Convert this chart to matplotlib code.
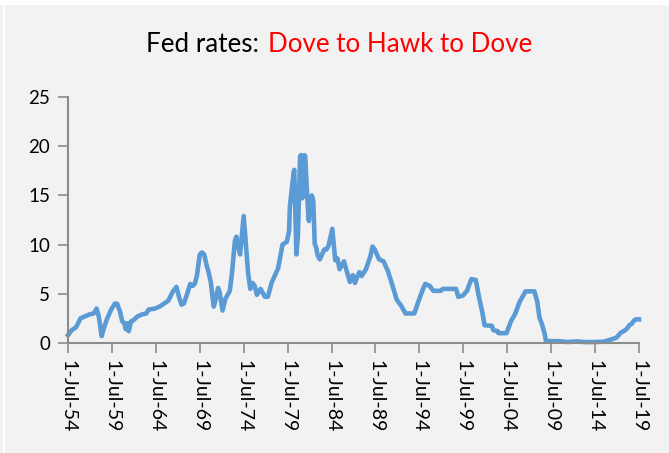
import matplotlib
matplotlib.use('Agg')
import matplotlib.pyplot as plt
import pandas as pd

# monthly fed funds rate breakpoints
dates = ['1954-07', '1954-12', '1955-06', '1955-12', '1956-06', '1956-12', '1957-06', '1957-10',
         '1958-01', '1958-05', '1958-08', '1958-12', '1959-06', '1959-11', '1960-02', '1960-06',
         '1960-09', '1960-12', '1961-02', '1961-04', '1961-06', '1961-09', '1961-12', '1962-06',
         '1962-12', '1963-06', '1963-09', '1964-06', '1964-12', '1965-06', '1965-12', '1966-06',
         '1966-11', '1967-03', '1967-06', '1967-09', '1967-12', '1968-06', '1968-09', '1968-12',
         '1969-03', '1969-07', '1969-10', '1970-01', '1970-04', '1970-07', '1970-10', '1971-02',
         '1971-04', '1971-08', '1971-10', '1972-02', '1972-06', '1972-12', '1973-03', '1973-07',
         '1973-09', '1973-11', '1974-02', '1974-07', '1974-10', '1975-01', '1975-04', '1975-07',
         '1975-10', '1976-01', '1976-06', '1976-12', '1977-04', '1977-09', '1977-12', '1978-06',
         '1978-12', '1979-06', '1979-09', '1979-10', '1980-03', '1980-04', '1980-07', '1980-09',
         '1980-12', '1981-01', '1981-03', '1981-06', '1981-07', '1981-09', '1981-11', '1981-12',
         '1982-02', '1982-04', '1982-06', '1982-08', '1982-10', '1982-12', '1983-03', '1983-06',
         '1983-09', '1983-12', '1984-03', '1984-08', '1984-10', '1984-12', '1985-03', '1985-06',
         '1985-09', '1985-12', '1986-03', '1986-08', '1986-12', '1987-03', '1987-06', '1987-09',
         '1987-12', '1988-06', '1988-12', '1989-03', '1989-06', '1989-09', '1989-12', '1990-06',
         '1990-12', '1991-06', '1991-12', '1992-06', '1992-12', '1993-06', '1993-12', '1994-06',
         '1994-12', '1995-03', '1995-09', '1996-02', '1996-12', '1997-03', '1998-09', '1998-12',
         '1999-06', '1999-12', '2000-06', '2000-12', '2001-04', '2001-09', '2001-12', '2002-10',
         '2002-12', '2003-06', '2003-07', '2004-06', '2004-12', '2005-06', '2005-12', '2006-06',
         '2006-08', '2007-08', '2007-12', '2008-03', '2008-06', '2008-10', '2008-12', '2009-06',
         '2010-06', '2011-06', '2012-06', '2013-06', '2014-06', '2015-06', '2015-12', '2016-06',
         '2016-12', '2017-03', '2017-06', '2017-12', '2018-03', '2018-06', '2018-09', '2018-12',
         '2019-03', '2019-07']
rates = [0.8, 1.3, 1.6, 2.5, 2.7, 2.9, 3.0, 3.5,
         2.7, 0.7, 1.5, 2.4, 3.4, 4.0, 4.0, 3.2,
         2.2, 2.0, 1.4, 2.0, 1.2, 2.2, 2.3, 2.7,
         2.9, 3.0, 3.4, 3.5, 3.7, 4.0, 4.3, 5.2,
         5.7, 4.6, 3.9, 4.0, 4.6, 6.0, 5.8, 6.0,
         6.8, 9.0, 9.2, 9.0, 8.0, 7.2, 6.2, 3.7,
         4.2, 5.6, 5.2, 3.3, 4.5, 5.3, 7.1, 10.4,
         10.8, 10.0, 9.0, 12.9, 10.0, 7.1, 5.5, 6.1,
         5.8, 4.9, 5.5, 4.7, 4.7, 6.1, 6.6, 7.6,
         10.0, 10.3, 11.4, 13.8, 17.2, 17.6, 9.0, 10.9,
         18.9, 19.1, 14.7, 19.1, 19.0, 15.9, 13.3, 12.4,
         14.8, 15.0, 14.5, 10.1, 9.7, 8.9, 8.5, 9.0,
         9.5, 9.5, 9.9, 11.6, 10.0, 8.4, 8.6, 7.5,
         7.9, 8.3, 7.5, 6.2, 6.9, 6.1, 6.7, 7.2,
         6.8, 7.5, 8.8, 9.8, 9.5, 9.0, 8.5, 8.3,
         7.3, 5.9, 4.4, 3.8, 3.0, 3.0, 3.0, 4.3,
         5.5, 6.0, 5.8, 5.3, 5.3, 5.5, 5.5, 4.7,
         4.8, 5.3, 6.5, 6.4, 4.8, 3.1, 1.8, 1.75,
         1.3, 1.2, 1.0, 1.0, 2.2, 3.0, 4.2, 5.0,
         5.25, 5.25, 4.2, 2.6, 2.0, 0.97, 0.16, 0.2,
         0.18, 0.1, 0.16, 0.09, 0.1, 0.13, 0.24, 0.38,
         0.54, 0.79, 1.04, 1.3, 1.51, 1.82, 1.95, 2.27,
         2.41, 2.4]

tick_years = list(range(1954, 2020, 5))
tick_labels = ['1-Jul-%02d' % (y % 100) for y in tick_years]

plt.rcParams['font.family'] = ['Lato', 'DejaVu Sans']

fig = plt.figure(figsize=(6.69, 4.53), dpi=100, facecolor='#F2F2F2')
ax = fig.add_axes([68 / 669, 110 / 453, 571 / 669, 246 / 453])
ax.set_facecolor('#F2F2F2')

x = pd.to_datetime(dates)
ax.plot(x, rates, color='#5B9BD5', lw=3.3, solid_joinstyle='round', clip_on=False)

ticks = pd.to_datetime(['%d-07-01' % y for y in tick_years])
ax.set_xticks(ticks)
ax.set_xticklabels(tick_labels, rotation=270, fontsize=14)
ax.set_xlim(ticks[0], ticks[-1])
ax.set_ylim(0, 25)
ax.set_yticks([0, 5, 10, 15, 20, 25])
ax.tick_params(axis='y', labelsize=13.5, length=7, width=1.2, color='#8C8C8C', pad=6)
ax.tick_params(axis='x', length=7, width=1.2, color='#8C8C8C', pad=5)
for s in ['top', 'right']:
    ax.spines[s].set_visible(False)
for s in ['left', 'bottom']:
    ax.spines[s].set_color('#8C8C8C')
    ax.spines[s].set_linewidth(1.5)

# two-colour title
fig.text(259 / 669, 1 - 45 / 453, 'Fed rates:', ha='right', va='center', fontsize=18.7, color='black')
fig.text(268 / 669, 1 - 45 / 453, 'Dove to Hawk to Dove', ha='left', va='center', fontsize=18.7, color='red')

# white strips at top and left edge as in the source image
fig.patches.append(plt.Rectangle((0, 1 - 5 / 453), 1, 5 / 453, transform=fig.transFigure,
                                 facecolor='white', edgecolor='none'))
fig.patches.append(plt.Rectangle((3 / 669, 0), 1.5 / 669, 1, transform=fig.transFigure,
                                 facecolor='white', edgecolor='none'))

fig.savefig('out.png', dpi=100, facecolor=fig.get_facecolor())
